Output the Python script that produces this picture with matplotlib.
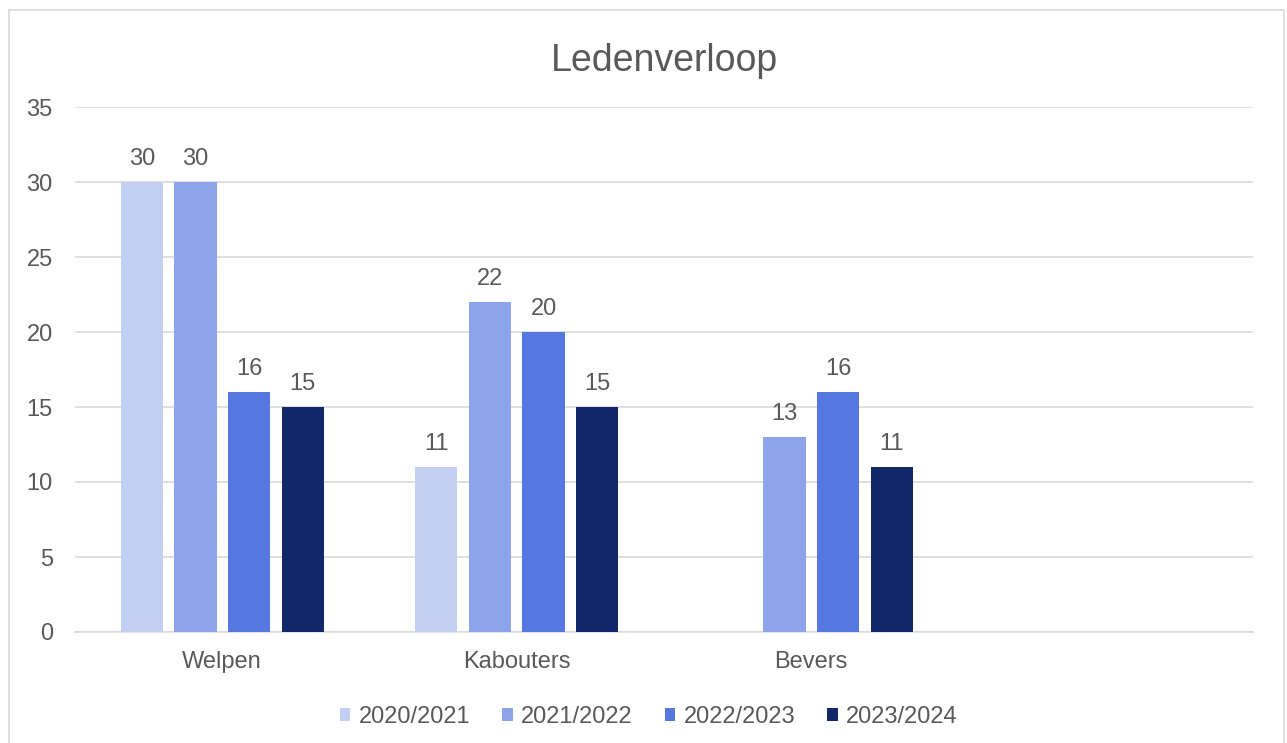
import matplotlib

matplotlib.use("Agg")
import matplotlib.pyplot as plt  # noqa: E402
import numpy as np  # noqa: E402
from matplotlib.patches import Rectangle  # noqa: E402

categories = ["Welpen", "Kabouters", "Bevers", ""]
seasons = ["2020/2021", "2021/2022", "2022/2023", "2023/2024"]
v2020 = [30, 11, None, None]
v2021 = [30, 22, 13, None]
v2022 = [16, 20, 16, None]
v2023 = [15, 15, 11, None]
series = [v2020, v2021, v2022, v2023]
colors = ["#C4D0F3", "#8DA4EB", "#5578E0", "#13286A"]
TXT = "#595959"

plt.rcParams["font.family"] = ["Liberation Sans", "DejaVu Sans"]
fig = plt.figure(figsize=(12.87, 7.43), dpi=100)
fig.patches.append(Rectangle((9 / 1287, -0.01), 1275 / 1287, 0.997, transform=fig.transFigure,
                             fill=False, edgecolor="#D9D9D9", linewidth=1.2))
ax = fig.add_axes([75 / 1287, 111 / 743, 1178 / 1287, 525 / 743])

x = np.arange(len(categories))
w, step = 0.143, 0.182
for i, (vals, c, lab) in enumerate(zip(series, colors, seasons)):
    off = (i - 1.5) * step
    xs = [xi + off for xi, v in zip(x, vals) if v is not None]
    ys = [v for v in vals if v is not None]
    bars = ax.bar(xs, ys, w, color=c, label=lab, zorder=3)
    for b, v in zip(bars, ys):
        ax.text(b.get_x() + b.get_width() / 2, v + 0.8, str(v), ha="center", va="bottom",
                fontsize=17, color=TXT)

ax.set_xlim(-0.5, len(categories) - 0.5)
ax.set_ylim(0, 35)
ax.set_yticks(range(0, 36, 5))
ax.set_xticks(x, categories)
ax.grid(axis="y", color="#D9D9D9", linewidth=1.2, zorder=0)
for s in ["top", "right", "left"]:
    ax.spines[s].set_visible(False)
ax.spines["bottom"].set_color("#D9D9D9")
ax.spines["bottom"].set_linewidth(1.2)
ax.tick_params(axis="both", length=0, labelsize=17, labelcolor=TXT)
ax.tick_params(axis="y", pad=16)
ax.tick_params(axis="x", pad=14)
ax.set_title("Ledenverloop", fontsize=27, color=TXT, pad=26)
ax.legend(loc="upper center", bbox_to_anchor=(0.487, -0.1), ncol=4, frameon=False,
          fontsize=17, labelcolor=TXT, handlelength=0.45, handleheight=0.45,
          handletextpad=0.35, columnspacing=1.35)

fig.savefig("out.png", dpi=100)
